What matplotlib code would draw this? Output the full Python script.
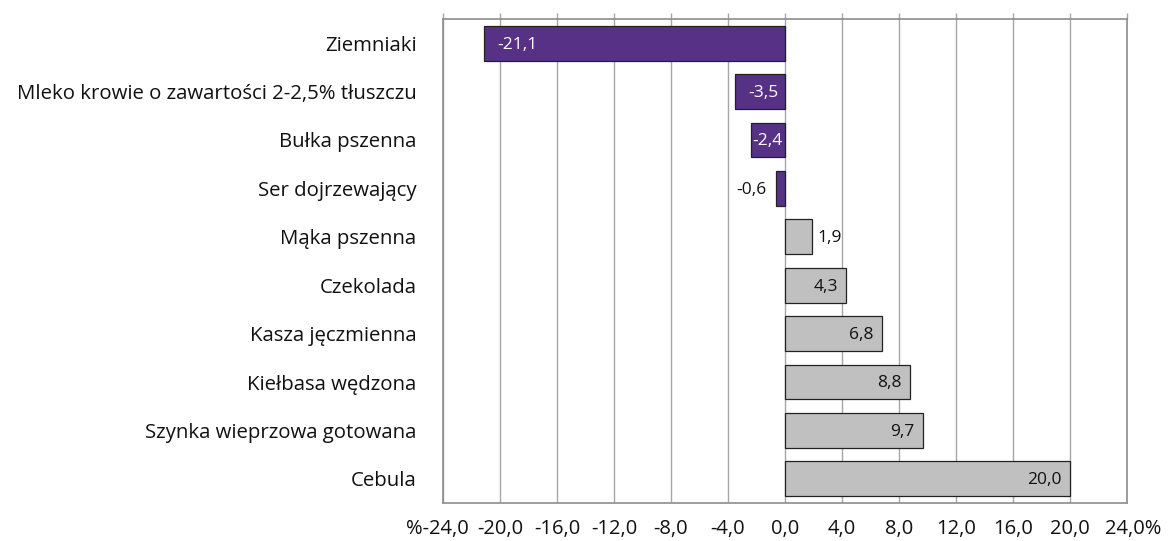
import matplotlib
matplotlib.use("Agg")
import matplotlib.pyplot as plt
from matplotlib.ticker import FixedLocator, FixedFormatter
from matplotlib.transforms import ScaledTranslation

categories = ["Ziemniaki", "Mleko krowie o zawartości 2-2,5% tłuszczu", "Bułka pszenna",
              "Ser dojrzewający", "Mąka pszenna", "Czekolada", "Kasza jęczmienna",
              "Kiełbasa wędzona", "Szynka wieprzowa gotowana", "Cebula"]
values = [-21.1, -3.5, -2.4, -0.6, 1.9, 4.3, 6.8, 8.8, 9.7, 20.0]
xticks = [-24, -20, -16, -12, -8, -4, 0, 4, 8, 12, 16, 20, 24]
xtick_labels = ["%-24,0", "-20,0", "-16,0", "-12,0", "-8,0", "-4,0", "0,0", "4,0",
                "8,0", "12,0", "16,0", "20,0", "24,0%"]

plt.rcParams['font.family'] = ['Open Sans', 'DejaVu Sans']
PURPLE = "#563185"
GRAY = "#C0C0C0"

fig = plt.figure(figsize=(11.68, 5.41), dpi=100)
ax = fig.add_axes([443/1168, 1-503/541, (1127-443)/1168, (503-19)/541])

ypos = list(range(len(categories)))
colors = [PURPLE if v < 0 else GRAY for v in values]
ax.barh(ypos, values, height=0.72, color=colors, edgecolor="#222222", linewidth=0.9, zorder=3)

ax.set_xlim(-24, 24)
ax.set_ylim(len(categories) - 0.5, -0.5)
ax.xaxis.set_major_locator(FixedLocator(xticks))
ax.xaxis.set_major_formatter(FixedFormatter(xtick_labels))
ax.grid(axis="x", color="#A6A6A6", linewidth=1.0, zorder=0)
ax.set_axisbelow(True)

ax.tick_params(axis="x", which="both", top=True, bottom=False, labeltop=False, labelbottom=True,
               direction="out", length=4.5, color="#A6A6A6", width=1.0, pad=7,
               labelsize=14.5, labelcolor="#111111")
ax.set_yticks(ypos)
ax.set_yticklabels(categories)
ax.tick_params(axis="y", length=0, pad=19, labelsize=14.7, labelcolor="#111111")

fig.canvas.draw()
xl = ax.get_xticklabels()
xl[0].set_transform(xl[0].get_transform() + ScaledTranslation(-6/100, 0, fig.dpi_scale_trans))
xl[-1].set_transform(xl[-1].get_transform() + ScaledTranslation(6/100, 0, fig.dpi_scale_trans))

for s in ax.spines.values():
    s.set_color("#8C8C8C")
    s.set_linewidth(1.2)

for y, v in zip(ypos, values):
    txt = f"{v:.1f}".replace(".", ",")
    yy = y + 0.03
    if abs(v) < 2:
        if v < 0:
            ax.text(v - 0.7, yy, txt, ha="right", va="center", fontsize=12.5, color="#111111", zorder=4)
        else:
            ax.text(v + 0.4, yy, txt, ha="left", va="center", fontsize=12.5, color="#111111", zorder=4)
    elif v < 0:
        ax.text(v + 0.1 if v > -3 else v + 0.9, yy, txt, ha="left", va="center", fontsize=12.5,
                color="white", zorder=4)
    else:
        ax.text(v - 0.6, yy, txt, ha="right", va="center", fontsize=12.5, color="#111111", zorder=4)

fig.savefig("out.png", dpi=100)
